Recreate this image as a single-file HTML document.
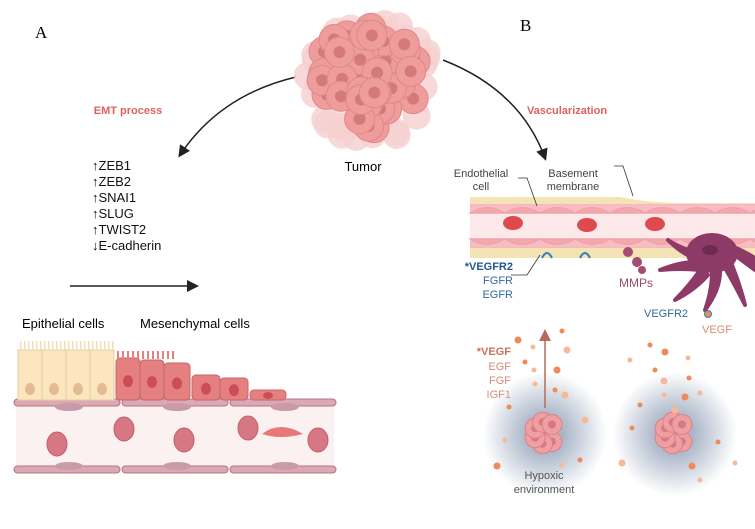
<!DOCTYPE html>
<html><head><meta charset="utf-8"><style>
body{margin:0;background:#fff}
svg{display:block;font-family:"Liberation Sans",sans-serif}
</style></head><body>
<svg id="s" width="755" height="529" viewBox="0 0 755 529" xmlns="http://www.w3.org/2000/svg">
<defs>
<marker id="ah" markerWidth="8" markerHeight="8" refX="6" refY="4" orient="auto"><path d="M0,0 L8,4 L0,8 z" fill="#222"/></marker>
<marker id="ah2" markerWidth="8" markerHeight="8" refX="6" refY="4" orient="auto"><path d="M0,0 L8,4 L0,8 z" fill="#b86a5a"/></marker>
<radialGradient id="glow"><stop offset="0.3" stop-color="#aab6c8"/><stop offset="1" stop-color="#aab6c8" stop-opacity="0"/></radialGradient>
</defs>
<text x="35" y="38" font-family="Liberation Serif" font-size="17">A</text>
<text x="520" y="31" font-family="Liberation Serif" font-size="17">B</text>
<text x="128" y="114" font-size="11" font-weight="bold" fill="#e06060" text-anchor="middle">EMT process</text>
<text x="567" y="114" font-size="11" font-weight="bold" fill="#e06060" text-anchor="middle">Vascularization</text>
<path d="M296,77 Q220,95 180,155" fill="none" stroke="#222" stroke-width="1.5" marker-end="url(#ah)"/>
<path d="M443,60 Q520,90 545,158" fill="none" stroke="#222" stroke-width="1.5" marker-end="url(#ah)"/>
<g id="tumor"></g>
<text x="363" y="171" font-size="13" text-anchor="middle">Tumor</text>
<g font-size="13" fill="#111">
<text x="92" y="170">↑ZEB1</text><text x="92" y="186">↑ZEB2</text><text x="92" y="202">↑SNAI1</text>
<text x="92" y="218">↑SLUG</text><text x="92" y="234">↑TWIST2</text><text x="92" y="250">↓E-cadherin</text>
</g>
<line x1="70" y1="286" x2="196" y2="286" stroke="#222" stroke-width="1.5" marker-end="url(#ah)"/>
<text x="22" y="328" font-size="13">Epithelial cells</text>
<text x="140" y="328" font-size="13">Mesenchymal cells</text>
<rect x="16" y="402" width="318" height="68" fill="#fcf1f1"/>
<g id="va"></g>
<path d="M470,197 L620,197 Q650,203 680,203 L755,203 L755,258 L470,258 Z" fill="#f4e3b5"/>
<rect x="470" y="205" width="285" height="42" fill="#fde9ea"/>
<g id="vb"></g>
<g font-size="11" fill="#444">
<text x="481" y="177" text-anchor="middle">Endothelial</text><text x="481" y="190" text-anchor="middle">cell</text>
<text x="573" y="177" text-anchor="middle">Basement</text><text x="573" y="190" text-anchor="middle">membrane</text>
</g>
<path d="M518,178 L527,178 L537,206" fill="none" stroke="#333" stroke-width="0.8"/>
<path d="M614,166 L623,166 L633,196" fill="none" stroke="#333" stroke-width="0.8"/>
<path d="M511,275 L527,275 L540,255" fill="none" stroke="#333" stroke-width="0.8"/>
<g font-size="11" fill="#2f6a9c" text-anchor="end">
<text x="513" y="270" font-weight="bold" fill="#24578a">*VEGFR2</text><text x="513" y="284">FGFR</text><text x="513" y="298">EGFR</text>
</g>
<text x="619" y="287" font-size="12" fill="#9a4a6a">MMPs</text>
<text x="644" y="317" font-size="11" fill="#2f6a9c">VEGFR2</text>
<text x="702" y="333" font-size="11" fill="#e08a6a">VEGF</text>
<g font-size="11" fill="#d48a78" text-anchor="end">
<text x="511" y="355" font-weight="bold" fill="#c8735e">*VEGF</text><text x="511" y="370">EGF</text><text x="511" y="384">FGF</text><text x="511" y="398">IGF1</text>
</g>
<circle cx="545" cy="434" r="62" fill="url(#glow)"/>
<circle cx="675" cy="434" r="62" fill="url(#glow)"/>
<line x1="545" y1="408" x2="545" y2="332" stroke="#b86a5a" stroke-width="1.5" marker-end="url(#ah2)"/>
<g id="hb"></g>
<text x="544" y="479" font-size="11" fill="#555" text-anchor="middle">Hypoxic</text>
<text x="544" y="493" font-size="11" fill="#555" text-anchor="middle">environment</text>
<g id="dots"></g>
</svg>
<script>
var NS="http://www.w3.org/2000/svg";
function el(p,t,a){var e=document.createElementNS(NS,t);for(var k in a)e.setAttribute(k,a[k]);document.getElementById(p).appendChild(e);return e;}
var seed=3;function r(){seed=(seed*9301+49297)%233280;return seed/233280;}
for(var i=0;i<26;i++){var a=r()*6.28,d=52+r()*14;el("tumor","circle",{cx:367+Math.cos(a)*d,cy:78+Math.sin(a)*d,r:14,fill:"#f6d0d0",opacity:.8});}
for(var i=0;i<40;i++){var a=r()*6.28,d=Math.sqrt(r())*52;el("tumor","circle",{cx:367+Math.cos(a)*d,cy:78+Math.sin(a)*d,r:15,fill:"#ee9c9c",stroke:"#e08888","stroke-width":1});el("tumor","circle",{cx:367+Math.cos(a)*d,cy:78+Math.sin(a)*d,r:6,fill:"#d57a7a"});}
[403,470].forEach(function(y){for(var x=14;x<330;x+=108){el("va","rect",{x:x,y:y-4,width:106,height:7,rx:3.5,fill:"#dba9b5",stroke:"#b57486","stroke-width":1});el("va","ellipse",{cx:x+55,cy:y+(y<450?4:-4),rx:14,ry:4,fill:"#c99aa8"});}});
for(var i=0;i<4;i++){var x=18+i*24;el("va","rect",{x:x,y:350,width:24,height:50,fill:"#fbe6c0",stroke:"#e8cfa0","stroke-width":1});el("va","ellipse",{cx:x+12,cy:389,rx:5,ry:6,fill:"#e3bb90"});for(var j=0;j<6;j++)el("va","rect",{x:x+2+j*4,y:341,width:1.5,height:9,fill:"#f3ddb5"});}
var mx=[[116,358,24,42],[140,360,24,40],[164,363,26,37],[192,375,28,25],[220,378,28,22],[250,390,36,10]];
mx.forEach(function(m){el("va","rect",{x:m[0],y:m[1],width:m[2],height:m[3],rx:4,fill:"#e58080",stroke:"#c86464","stroke-width":1});el("va","ellipse",{cx:m[0]+m[2]/2,cy:m[1]+m[3]*0.55,rx:5,ry:Math.min(6,m[3]/3),fill:"#cc4d55"});});
for(var j=0;j<12;j++)el("va","rect",{x:117+j*5,y:351,width:2,height:8,fill:"#e58080"});
[[57,444],[124,429],[184,440],[248,428],[318,440]].forEach(function(p){el("va","ellipse",{cx:p[0],cy:p[1],rx:10,ry:12,fill:"#d87784",stroke:"#c25f6c"});});
el("va","path",{d:"M262,434 Q280,420 303,434 Q280,440 262,434Z",fill:"#e87878"});
for(var x=470;x<755;x+=35){el("vb","path",{d:"M"+x+",213 Q"+(x+17)+",202 "+(x+35)+",213Z",fill:"#f2a3a8",stroke:"#e48590"});el("vb","path",{d:"M"+x+",239 Q"+(x+17)+",250 "+(x+35)+",239Z",fill:"#f2a3a8",stroke:"#e48590"});}
el("vb","rect",{x:470,y:204,width:285,height:9,fill:"#f4aab0",opacity:.7});el("vb","rect",{x:470,y:239,width:285,height:9,fill:"#f4aab0",opacity:.7});
[[513,223],[587,225],[655,224]].forEach(function(p){el("vb","ellipse",{cx:p[0],cy:p[1],rx:10,ry:7,fill:"#e0494d"});});
[547,585].forEach(function(x){el("vb","path",{d:"M"+(x-5)+",258 Q"+x+",248 "+(x+5)+",258",fill:"none",stroke:"#2f80b8","stroke-width":2});});
[[628,252,5],[637,262,5],[642,270,4]].forEach(function(p){el("vb","circle",{cx:p[0],cy:p[1],r:p[2],fill:"#a34d73"});});
var P="#8e3a66";
el("vb","ellipse",{cx:712,cy:253,rx:26,ry:20,fill:P});
[["M695,262 Q680,262 660,270 Q680,268 700,270"],["M700,270 Q690,285 675,300 Q695,290 708,275"],["M712,272 Q712,290 705,310 Q720,290 720,272"],["M725,268 Q735,285 745,305 Q740,285 732,265"],["M735,255 Q748,265 755,270 L755,258 Q745,252 736,248"],["M688,250 Q675,245 668,240 Q680,252 690,256"]].forEach(function(d){el("vb","path",{d:d[0]+"Z",fill:P,stroke:P,"stroke-width":4,"stroke-linejoin":"round"});});
el("vb","ellipse",{cx:710,cy:250,rx:8,ry:5,fill:"#6e2a50"});
el("vb","circle",{cx:708,cy:314,r:3.5,fill:"#f08a50",stroke:"#2f80b8"});
[545,675].forEach(function(cx){for(var i=0;i<7;i++){var a=i*0.9,d=i?11:0;el("hb","circle",{cx:cx+Math.cos(a)*d,cy:433+Math.sin(a)*d,r:10,fill:"#ef9ea2",stroke:"#d88388"});el("hb","circle",{cx:cx+Math.cos(a)*d,cy:433+Math.sin(a)*d,r:4,fill:"#d57a80"});}});
var dts=[[518,340],[533,347],[562,331],[567,350],[525,362],[534,370],[557,370],[535,384],[555,390],[565,395],[509,407],[505,440],[497,466],[562,465],[580,460],[585,420],[650,345],[630,360],[665,352],[688,358],[655,370],[664,381],[689,378],[664,395],[685,397],[700,393],[640,405],[675,410],[718,442],[735,463],[692,466],[700,480],[632,428],[622,463]];
dts.forEach(function(p,i){el("dots","circle",{cx:p[0],cy:p[1],r:i%3?2.5:3.5,fill:i%2?"#f6b99a":"#ef8a5a"});});
</script>
</body></html>
